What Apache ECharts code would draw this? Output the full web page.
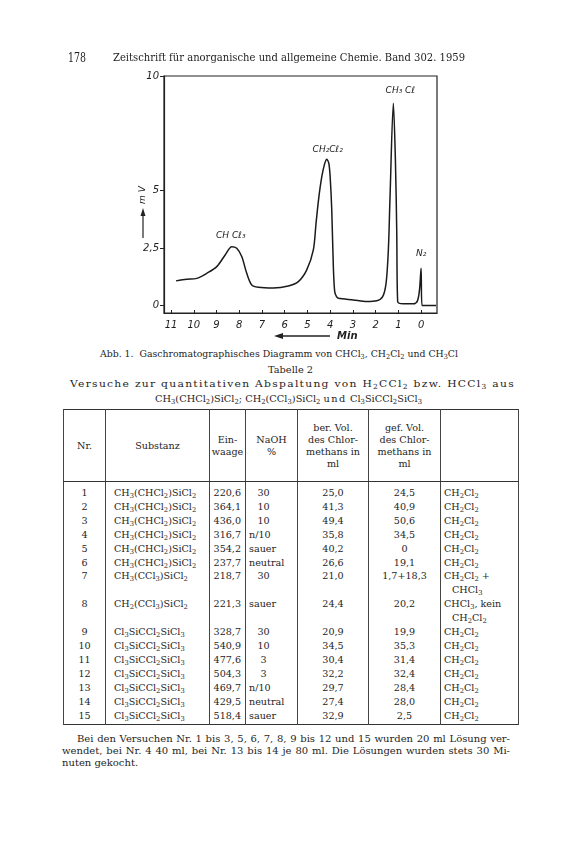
<!DOCTYPE html>
<html>
<head>
<meta charset="utf-8">
<title>Gaschromatogramm</title>
<script src="https://cdn.jsdelivr.net/npm/echarts@6/dist/echarts.min.js"></script>
<style>
  html, body { margin: 0; padding: 0; background: #fff; }
  #page { position: relative; width: 577px; height: 864px; overflow: hidden; color: #1e1e1e;
          font-family: "DejaVu Serif", "Liberation Serif", serif; font-size: 10px; }
  #chart { position: absolute; left: 0; top: 0; width: 577px; height: 345px; }
  .ln { position: absolute; white-space: nowrap; transform-origin: left center; line-height: 1; }
  sub { font-size: 70%; vertical-align: -0.3em; line-height: 0; }
  #tab { position: absolute; left: 63px; top: 409px; width: 455px; border-collapse: collapse;
         table-layout: fixed; border: 1px solid #333; font-size: 9.6px; }
  #tab td { border-left: 1px solid #444; border-right: 1px solid #444; padding: 0; line-height: 13.9px;
            white-space: nowrap; vertical-align: top; }
  #tab thead td { height: 71px; vertical-align: middle; text-align: center; line-height: 12px;
                  border-bottom: 1px solid #333; }
  #tab tbody tr:first-child td { padding-top: 4px; }
  #tab tbody tr:last-child td { padding-bottom: 2px; }
  .fn { position: absolute; left: 62px; width: 448px; font-size: 10px; text-align: justify;
        white-space: nowrap; line-height: 1; }
</style>
</head>
<body>
<div id="page">
  <div id="chart"></div>
  <div class="ln" style="left:68px;top:57px;font-size:13px;" data-w="18">178</div>
  <div class="ln" style="left:113px;top:57px;font-size:10.5px;" data-w="352">Zeitschrift für anorganische und allgemeine Chemie. Band 302. 1959</div>
  <div class="ln chem" style="left:100px;top:354px;font-size:10px;" data-w="358">Abb. 1.&nbsp; Gaschromatographisches Diagramm von CHCl3, CH2Cl2 und CH3Cl</div>
  <div class="ln" style="left:268px;top:370px;font-size:10px;" data-w="45">Tabelle 2</div>
  <div class="ln chem" style="left:70px;top:384px;font-size:10px;letter-spacing:1.2px;" data-w="445">Versuche zur quantitativen Abspaltung von H2CCl2 bzw. HCCl3 aus</div>
  <div class="ln chem" style="left:155px;top:399px;font-size:10px;" data-w="267">CH3(CHCl2)SiCl2; CH2(CCl3)SiCl2 <span style="letter-spacing:1.5px">und</span> Cl3SiCCl2SiCl3</div>
  <table id="tab"></table>
  <div class="fn" style="top:734px;text-align-last:justify;padding-left:15px;width:433px;">Bei den Versuchen Nr. 1 bis 3, 5, 6, 7, 8, 9 bis 12 und 15 wurden 20 ml Lösung ver-</div>
  <div class="fn" style="top:746px;text-align-last:justify;">wendet, bei Nr. 4 40 ml, bei Nr. 13 bis 14 je 80 ml. Die Lösungen wurden stets 30 Mi-</div>
  <div class="fn" style="top:758px;">nuten gekocht.</div>
</div>

<script>
// Chromatogramm: Retentionszeit (min) und Signal (mV)
var zeitMin = [10.78, 10.31, 9.87, 9.43, 8.99, 8.62, 8.33, 8.11, 7.89, 7.67, 7.45, 7.16, 6.50, 5.84, 5.40,
               5.03, 4.74, 4.62, 4.50, 4.37, 4.25, 4.15, 4.06, 4.00, 3.93, 3.86, 3.80, 3.72, 3.64, 2.98,
               2.39, 1.95, 1.69, 1.54, 1.44, 1.37, 1.22, 1.13, 1.07, 1.03, 0.78, 0.33, 0.16, 0.07,
               0.00, -0.04, -0.66];
var signalMV = [1.07, 1.14, 1.18, 1.40, 1.69, 2.20, 2.56, 2.49, 2.13, 1.40, 0.89, 0.79, 0.76, 0.85, 1.04,
                1.55, 2.42, 3.60, 4.70, 5.60, 6.15, 6.37, 6.20, 5.60, 4.16, 1.69, 0.60, 0.38, 0.31, 0.24,
                0.17, 0.20, 0.38, 0.97, 2.42, 4.60, 8.81, 6.34, 3.15, 0.17, 0.07, 0.07, 0.20, 0.68,
                1.62, 0.00, 0.00];
var xTicks = [0, 1, 2, 3, 4, 5, 6, 7, 8, 9, 10, 11];
var yTicks = [0, 2.5, 5, 10];
var peakNames = ['CH Cℓ₃', 'CH₂Cℓ₂', 'CH₃ Cℓ', 'N₂'];
var peakZeit = [8.33, 4.15, 1.22, 0.00];

// Tabelle 2
var tabKopf = ['Nr.', 'Substanz', 'Ein-<br>waage', 'NaOH<br>%', 'ber. Vol.<br>des Chlor-<br>methans in<br>ml',
               'gef. Vol.<br>des Chlor-<br>methans in<br>ml', ''];
var tabNr = [1, 2, 3, 4, 5, 6, 7, 8, 9, 10, 11, 12, 13, 14, 15];
var tabSubstanz = ['CH3(CHCl2)SiCl2', 'CH3(CHCl2)SiCl2', 'CH3(CHCl2)SiCl2', 'CH3(CHCl2)SiCl2',
                   'CH3(CHCl2)SiCl2', 'CH3(CHCl2)SiCl2', 'CH3(CCl3)SiCl2', 'CH2(CCl3)SiCl2',
                   'Cl3SiCCl2SiCl3', 'Cl3SiCCl2SiCl3', 'Cl3SiCCl2SiCl3', 'Cl3SiCCl2SiCl3',
                   'Cl3SiCCl2SiCl3', 'Cl3SiCCl2SiCl3', 'Cl3SiCCl2SiCl3'];
var tabEinwaage = ['220,6', '364,1', '436,0', '316,7', '354,2', '237,7', '218,7', '221,3',
                   '328,7', '540,9', '477,6', '504,3', '469,7', '429,5', '518,4'];
var tabNaOH = ['30', '10', '10', 'n/10', 'sauer', 'neutral', '30', 'sauer',
               '30', '10', '3', '3', 'n/10', 'neutral', 'sauer'];
var tabBerVol = ['25,0', '41,3', '49,4', '35,8', '40,2', '26,6', '21,0', '24,4',
                 '20,9', '34,5', '30,4', '32,2', '29,7', '27,4', '32,9'];
var tabGefVol = ['24,5', '40,9', '50,6', '34,5', '0', '19,1', '1,7+18,3', '20,2',
                 '19,9', '35,3', '31,4', '32,4', '28,4', '28,0', '2,5'];
var tabProdukt = ['CH2Cl2', 'CH2Cl2', 'CH2Cl2', 'CH2Cl2', 'CH2Cl2', 'CH2Cl2', 'CH2Cl2 +|CHCl3', 'CHCl3, kein|CH2Cl2',
                  'CH2Cl2', 'CH2Cl2', 'CH2Cl2', 'CH2Cl2', 'CH2Cl2', 'CH2Cl2', 'CH2Cl2'];

// Ziffern in Formeln tiefstellen
function chem(s) {
  return s.replace(/([A-Za-z\)])(\d+)/g, '$1<sub>$2</sub>');
}

// Tabelle aufbauen
var spalten = [42, 104, 36, 52, 71, 72, 78];
var html = '<colgroup>' + spalten.map(function(w){ return '<col style="width:' + w + 'px">'; }).join('') + '</colgroup>';
html += '<thead><tr>' + tabKopf.map(function(k){ return '<td>' + k + '</td>'; }).join('') + '</tr></thead><tbody>';
tabNr.forEach(function(nr, i){
  var naoh = tabNaOH[i];
  var naohStil = /^\d+$/.test(naoh) ? 'text-align:center;padding-right:16px' : 'padding-left:3px';
  var prod = tabProdukt[i].split('|').map(chem);
  var prodHtml = prod[0] + (prod[1] ? '<br><span style="padding-left:8px">' + prod[1] + '</span>' : '');
  html += '<tr>' +
    '<td style="text-align:center">' + nr + '</td>' +
    '<td style="padding-left:8px">' + chem(tabSubstanz[i]) + '</td>' +
    '<td style="text-align:right;padding-right:4px">' + tabEinwaage[i] + '</td>' +
    '<td style="' + naohStil + '">' + naoh + '</td>' +
    '<td style="text-align:center">' + tabBerVol[i] + '</td>' +
    '<td style="text-align:center">' + tabGefVol[i] + '</td>' +
    '<td style="padding-left:3px">' + prodHtml + '</td></tr>';
});
html += '</tbody>';
document.getElementById('tab').innerHTML = html;

// Textzeilen: Formeln setzen, auf Breite bringen
document.querySelectorAll('.chem').forEach(function(el){
  el.innerHTML = el.innerHTML.replace(/(CH|Cl|C|H|\))(\d)(?![\d.])/g, '$1<sub>$2</sub>');
});
document.querySelectorAll('[data-w]').forEach(function(el){
  var w = el.getBoundingClientRect().width;
  el.style.transform = 'translateY(-50%) scaleX(' + (+el.dataset.w / w) + ')';
});

// Diagramm
var punkte = zeitMin.map(function(t, i){ return [t, signalMV[i]]; });
var gipfel = peakNames.map(function(n, i){
  var k = zeitMin.indexOf(peakZeit[i]);
  return { name: n, coord: [zeitMin[k], signalMV[k]] };
});
var versatz = [[-1, -3], [1, -1], [7, -4], [0, -6]];

var labelFont = { fontFamily: 'DejaVu Sans', fontStyle: 'italic', color: '#1e1e1e' };

var chart = echarts.init(document.getElementById('chart'), null, { renderer: 'canvas' });
chart.setOption({
  animation: false,
  grid: { left: 164, top: 76, right: 140, bottom: 32, show: true, borderColor: '#222', borderWidth: 1.2 },
  xAxis: {
    type: 'value', inverse: true, min: -0.70, max: 11.31,
    axisLine: { onZero: false, lineStyle: { color: '#222', width: 1.2 } },
    axisTick: { inside: true, length: 3, customValues: xTicks, lineStyle: { color: '#222' } },
    axisLabel: Object.assign({ customValues: xTicks, fontSize: 10, margin: 7 }, labelFont),
    splitLine: { show: false }
  },
  yAxis: {
    type: 'value', min: -0.33, max: 10,
    axisLine: { show: true, onZero: false, lineStyle: { color: '#222', width: 1.2 } },
    axisTick: { show: true, length: 4, customValues: yTicks, lineStyle: { color: '#222' } },
    axisLabel: Object.assign({ customValues: yTicks, fontSize: 10, margin: 5,
      formatter: function(v){ return String(v).replace('.', ','); } }, labelFont),
    splitLine: { show: false }
  },
  series: [{
    type: 'line',
    data: punkte,
    smooth: 0.3,
    showSymbol: false,
    lineStyle: { color: '#1a1a1a', width: 1.5 },
    markPoint: {
      symbol: 'circle', symbolSize: 0,
      label: Object.assign({ show: true, position: 'top', distance: 4, fontSize: 9,
        formatter: function(p){ return p.name; } }, labelFont),
      data: gipfel.map(function(g, i){
        return { name: g.name, coord: g.coord, label: { offset: versatz[i] } };
      })
    }
  }],
  graphic: [
    { type: 'text', x: 143, y: 195, rotation: Math.PI / 2,
      style: { text: 'm V', fontSize: 9, fontStyle: 'italic', fontFamily: 'DejaVu Sans',
               fill: '#222', align: 'center', verticalAlign: 'middle' } },
    { type: 'line', shape: { x1: 143, y1: 238, x2: 143, y2: 213 }, style: { stroke: '#222', lineWidth: 1.2 } },
    { type: 'polygon', shape: { points: [[140.5, 216], [145.5, 216], [143, 208]] }, style: { fill: '#222' } },
    { type: 'line', shape: { x1: 281, y1: 336, x2: 330, y2: 336 }, style: { stroke: '#222', lineWidth: 1.5 } },
    { type: 'polygon', shape: { points: [[274, 336], [283, 333], [283, 339]] }, style: { fill: '#222' } },
    { type: 'text', x: 337, y: 336,
      style: { text: 'Min', fontSize: 10, fontStyle: 'italic', fontWeight: 'bold', fontFamily: 'DejaVu Sans',
               fill: '#222', align: 'left', verticalAlign: 'middle' } }
  ]
});
</script>
</body>
</html>
